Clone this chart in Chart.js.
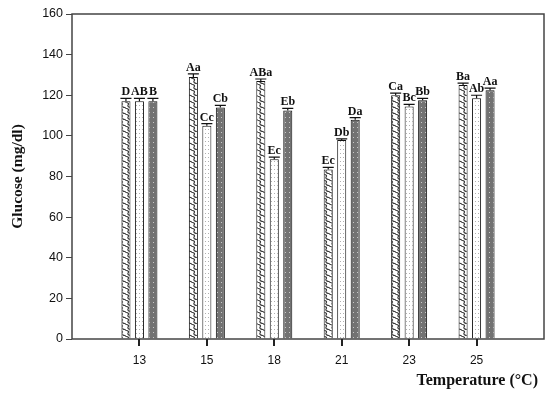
<!DOCTYPE html>
<html>
<head>
<meta charset="utf-8">
<script src="https://cdn.jsdelivr.net/npm/chart.js@4.4.1/dist/chart.umd.min.js"></script>
<style>
  html, body { margin: 0; padding: 0; background: #fff; }
  #wrap { width: 550px; height: 395px; }
</style>
</head>
<body>
<div id="wrap"><canvas id="chart" width="550" height="395"></canvas></div>
<script>
// temperatures (empty slots at both ends keep the ticks where the original has them)
const temps = ['', '13', '15', '18', '21', '23', '25', ''];

const glucose1 = [null, 117, 129, 127, 83.5, 120, 125, null];
const glucose2 = [null, 117, 105, 88.5, 98, 114.5, 118.5, null];
const glucose3 = [null, 117, 114, 112.5, 108, 117.5, 122.5, null];

const err1 = [0, 1.5, 1.5, 1, 1, 1, 1, 0];
const err2 = [0, 1.5, 1, 1, 0.5, 1, 1.5, 0];
const err3 = [0, 1.5, 1, 1, 1, 1, 1, 0];

const letters1 = ['', 'D', 'Aa', 'ABa', 'Ec', 'Ca', 'Ba', ''];
const letters2 = ['', 'AB', 'Cc', 'Ec', 'Db', 'Bc', 'Ab', ''];
const letters3 = ['', 'B', 'Cb', 'Eb', 'Da', 'Bb', 'Aa', ''];

const yTicks = [0, 20, 40, 60, 80, 100, 120, 140, 160];

function makePattern(kind) {
    const c = document.createElement('canvas');
    const g = c.getContext('2d');
    if (kind === 'wave') {
        c.width = 6; c.height = 6;
        g.fillStyle = '#fff';
        g.fillRect(0, 0, 6, 6);
        g.strokeStyle = '#3a3a3a';
        g.lineWidth = 1.1;
        g.beginPath();
        g.moveTo(-1, 0);
        g.quadraticCurveTo(4, 1, 2, 3);
        g.quadraticCurveTo(1, 5, 6, 6);
        g.stroke();
        g.beginPath();
        g.moveTo(5, 0);
        g.quadraticCurveTo(10, 1, 8, 3);
        g.stroke();
    } else if (kind === 'dots') {
        c.width = 3; c.height = 4;
        g.fillStyle = '#fff';
        g.fillRect(0, 0, 3, 4);
        g.fillStyle = '#b0b0b0';
        g.fillRect(1, 1, 1, 1);
    } else {
        c.width = 4; c.height = 5;
        g.fillStyle = '#727272';
        g.fillRect(0, 0, 4, 5);
        g.fillStyle = '#c8c8c8';
        g.fillRect(1, 2, 1, 1);
    }
    return g.createPattern(c, 'repeat');
}

const errorBars = {
    id: 'errorBars',
    afterDatasetsDraw(chart) {
        const ctx = chart.ctx;
        const yScale = chart.scales.y;
        const errs = [err1, err2, err3];
        const letters = [letters1, letters2, letters3];
        ctx.save();
        chart.data.datasets.forEach((ds, di) => {
            const meta = chart.getDatasetMeta(di);
            meta.data.forEach((bar, i) => {
                const v = ds.data[i];
                if (v === null) return;
                const top = yScale.getPixelForValue(v + errs[di][i]);
                const half = bar.width / 2 + 1;
                ctx.strokeStyle = '#111';
                ctx.lineWidth = 1.2;
                ctx.beginPath();
                ctx.moveTo(bar.x, bar.y);
                ctx.lineTo(bar.x, top);
                ctx.moveTo(bar.x - half, top);
                ctx.lineTo(bar.x + half, top);
                ctx.stroke();
                ctx.fillStyle = '#111';
                ctx.font = 'bold 12px "Liberation Serif"';
                ctx.textAlign = 'center';
                ctx.textBaseline = 'alphabetic';
                ctx.fillText(letters[di][i], bar.x, top - 3);
            });
        });
        ctx.restore();
    }
};

// box round the plot, x tick marks under each group and the x title
const frame = {
    id: 'frame',
    afterDraw(chart) {
        const area = chart.chartArea;
        const mid = chart.getDatasetMeta(1).data;
        const ctx = chart.ctx;
        ctx.save();
        ctx.strokeStyle = '#444';
        ctx.lineWidth = 1.5;
        ctx.strokeRect(area.left, area.top, area.right - area.left, area.bottom - area.top);
        ctx.fillStyle = '#222';
        mid.forEach((bar, i) => {
            if (glucose2[i] === null) return;
            ctx.fillRect(Math.round(bar.x) - 1, area.bottom, 2, 7);
        });
        ctx.fillStyle = '#111';
        ctx.font = 'bold 16px "Liberation Serif"';
        ctx.textAlign = 'right';
        ctx.textBaseline = 'middle';
        ctx.fillText('Temperature (°C)', 538, 381);
        ctx.restore();
    }
};

const ctx = document.getElementById('chart').getContext('2d');
const chart = new Chart(ctx, {
    type: 'bar',
    data: {
        labels: temps,
        datasets: [
            { data: glucose1, backgroundColor: makePattern('wave'), borderColor: '#111', borderWidth: 1 },
            { data: glucose2, backgroundColor: makePattern('dots'), borderColor: '#111', borderWidth: 1 },
            { data: glucose3, backgroundColor: makePattern('dark'), borderColor: '#111', borderWidth: 1 }
        ]
    },
    options: {
        responsive: false,
        animation: false,
        layout: { padding: { left: 0, right: 6, top: 14, bottom: 0 } },
        datasets: { bar: { categoryPercentage: 0.6, barPercentage: 0.67 } },
        plugins: {
            legend: { display: false },
            tooltip: { enabled: false }
        },
        scales: {
            x: {
                offset: false,
                grid: { display: false, tickLength: 11 },
                border: { display: false },
                ticks: {
                    autoSkip: false,
                    maxRotation: 0,
                    padding: 3,
                    color: '#111',
                    font: { family: '"Liberation Sans"', size: 12 }
                },
                afterFit: s => { s.height = 56; }
            },
            y: {
                min: 0,
                max: 160,
                afterBuildTicks: s => { s.ticks = yTicks.map(v => ({ value: v })); },
                grid: { drawOnChartArea: false, tickLength: 6, color: '#444' },
                border: { display: false },
                ticks: {
                    padding: 3,
                    color: '#111',
                    font: { family: '"Liberation Sans"', size: 12.5 }
                },
                title: {
                    display: true,
                    text: 'Glucose (mg/dl)',
                    color: '#111',
                    font: { family: '"Liberation Serif"', size: 15.5, weight: 'bold' },
                    padding: { top: 9, bottom: 0 }
                },
                afterFit: s => { s.width = 72; }
            }
        }
    },
    plugins: [errorBars, frame]
});
</script>
</body>
</html>
